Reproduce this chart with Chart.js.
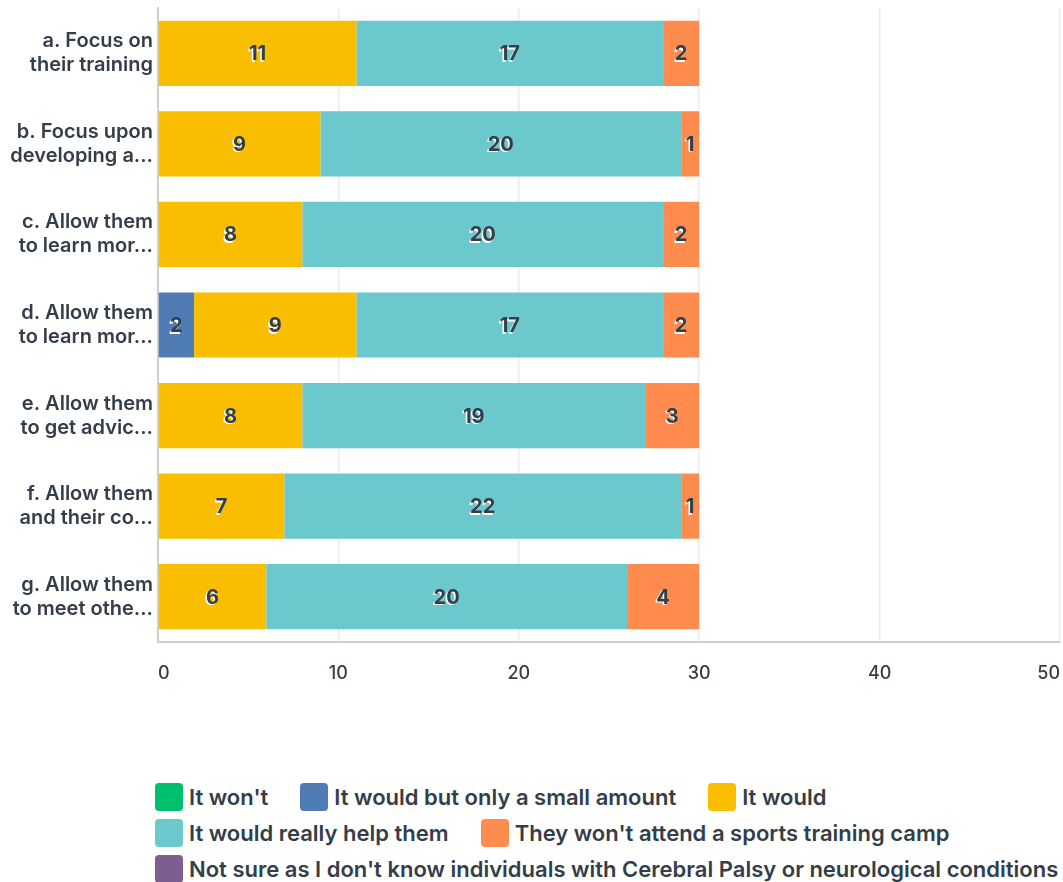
<!DOCTYPE html>
<html>
<head>
<meta charset="utf-8">
<script src="https://cdn.jsdelivr.net/npm/chart.js@4"></script>
<style>
  html, body { margin: 0; padding: 0; background: #fff; }
  #wrap { position: relative; width: 1063px; height: 882px; overflow: hidden; }
  #chartBox { position: absolute; left: 0; top: 0; width: 1063px; height: 700px; }
  #legend { position: absolute; left: 155px; top: 783px; width: 1200px; font-family: Inter, sans-serif; font-weight: 600; font-size: 22px; color: #333e48; }
  .row { display: flex; height: 28px; margin-bottom: 8px; white-space: nowrap; }
  .item { display: flex; align-items: center; margin-right: 32px; }
  .sw { width: 28px; height: 28px; border-radius: 4px; margin-right: 6px; flex: none; }
</style>
</head>
<body>
<div id="wrap">
  <div id="chartBox"><canvas id="c"></canvas></div>
  <div id="legend"></div>
</div>
<script>
const categories = [
  ["a. Focus on", "their training"],
  ["b. Focus upon", "developing a..."],
  ["c. Allow them", "to learn mor..."],
  ["d. Allow them", "to learn mor..."],
  ["e. Allow them", "to get advic..."],
  ["f. Allow them", "and their co..."],
  ["g. Allow them", "to meet othe..."]
];
const seriesNames = [
  "It won't",
  "It would but only a small amount",
  "It would",
  "It would really help them",
  "They won't attend a sports training camp",
  "Not sure as I don't know individuals with Cerebral Palsy or neurological conditions that..."
];
const seriesColors = ["#00bf6f", "#507cb6", "#f9be00", "#6bc8cd", "#ff8b4f", "#7d5e90"];
const itWont        = [0, 0, 0, 0, 0, 0, 0];
const smallAmount   = [0, 0, 0, 2, 0, 0, 0];
const itWould       = [11, 9, 8, 9, 8, 7, 6];
const reallyHelp    = [17, 20, 20, 17, 19, 22, 20];
const wontAttend    = [2, 1, 2, 2, 3, 1, 4];
const notSure       = [0, 0, 0, 0, 0, 0, 0];
const seriesValues = [itWont, smallAmount, itWould, reallyHelp, wontAttend, notSure];
const xTicks = [0, 10, 20, 30, 40, 50];

const FONT = 'Inter, "Open Sans", sans-serif';

const labelPlugin = {
  id: 'segLabels',
  afterDatasetsDraw(chart) {
    const ctx = chart.ctx;
    ctx.save();
    ctx.font = '700 20px ' + FONT;
    ctx.textAlign = 'center';
    ctx.textBaseline = 'middle';
    chart.data.datasets.forEach((ds, di) => {
      const meta = chart.getDatasetMeta(di);
      if (meta.hidden) return;
      meta.data.forEach((bar, i) => {
        const v = ds.data[i];
        if (!v) return;
        const cx = (bar.x + bar.base) / 2;
        const cy = bar.y + 1;
        const t = String(v);
        ctx.fillStyle = '#ffffff';
        ctx.fillText(t, cx - 1.5, cy + 1.5);
        ctx.fillStyle = '#333e48';
        ctx.fillText(t, cx, cy);
      });
    });
    ctx.restore();
  }
};

new Chart(document.getElementById('c'), {
  type: 'bar',
  data: {
    labels: categories,
    datasets: seriesNames.map((n, i) => ({
      label: n,
      data: seriesValues[i],
      backgroundColor: seriesColors[i],
      borderWidth: 0,
      categoryPercentage: 1.0,
      barPercentage: 0.72
    }))
  },
  options: {
    indexAxis: 'y',
    responsive: true,
    maintainAspectRatio: false,
    animation: false,
    layout: { padding: { top: 8, right: 3, left: 0, bottom: 0 } },
    plugins: { legend: { display: false }, tooltip: { enabled: false } },
    scales: {
      x: {
        stacked: true,
        min: 0, max: 50,
        afterBuildTicks(scale) { scale.ticks = xTicks.map(v => ({ value: v })); },
        afterFit(scale) {
          scale.height = 58;
          scale.paddingLeft = 0; scale.paddingRight = 0;
        },
        grid: {
          drawTicks: false,
          lineWidth: 1.5,
          color: (c) => c.index === 0 ? 'rgba(0,0,0,0)' : '#ebebeb'
        },
        border: { display: true, color: '#cfcfcf', width: 2 },
        ticks: {
          padding: 21,
          align: 'inner',
          color: '#333e48',
          font: { family: FONT, size: 18, weight: '500' }
        }
      },
      y: {
        stacked: true,
        afterFit(scale) {
          scale.width = 158;
          scale.paddingTop = 0; scale.paddingBottom = 0;
        },
        grid: { display: true, drawOnChartArea: false, drawTicks: false },
        border: { display: true, color: '#cfcfcf', width: 2 },
        ticks: {
          padding: 5,
          color: '#333e48',
          font: { family: FONT, size: 20, weight: '600', lineHeight: 1.2 }
        }
      }
    }
  },
  plugins: [labelPlugin]
});

// HTML legend built from series arrays
const rows = [[0, 1, 2], [3, 4], [5]];
const legend = document.getElementById('legend');
rows.forEach(r => {
  const row = document.createElement('div');
  row.className = 'row';
  r.forEach(i => {
    const it = document.createElement('div');
    it.className = 'item';
    const sw = document.createElement('span');
    sw.className = 'sw';
    sw.style.background = seriesColors[i];
    const tx = document.createElement('span');
    tx.textContent = seriesNames[i];
    it.appendChild(sw); it.appendChild(tx);
    row.appendChild(it);
  });
  legend.appendChild(row);
});
</script>
</body>
</html>
